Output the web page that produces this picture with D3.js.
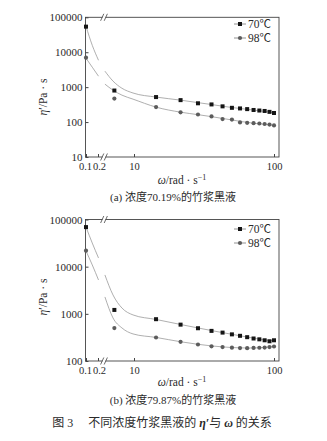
<!DOCTYPE html>
<html><head><meta charset="utf-8">
<script src="https://cdn.jsdelivr.net/npm/d3@7"></script>
<style>
body{margin:0;background:#fff}
svg{display:block}
text{font-family:"Liberation Serif","Times New Roman","Noto Sans CJK SC",serif;fill:#2a2a2a}
</style>
</head><body>
<svg id="c" width="327" height="441"></svg>
<script>
// ---------- data ----------
const omega = [0.1, 7.24, 14.37, 21.51, 28.64, 35.78, 42.91, 50.05, 57.19, 64.32, 71.46, 78.59, 85.73, 92.86, 100];
const etaA70 = [54000, 800, 520, 425, 345, 320, 282, 256, 246, 235, 222, 214, 208, 196, 182];
const etaA98 = [7000, 470, 268, 190, 165, 145, 122, 118, 98, 95, 93, 91, 88, 85, 80];
const etaB70 = [69000, 1210, 770, 590, 495, 435, 400, 367, 342, 320, 300, 288, 275, 262, 275];
const etaB98 = [21800, 500, 315, 255, 224, 205, 197, 192, 188, 187, 189, 191, 193, 197, 203];

// fitted curves (two pieces, either side of the axis break)
const fitOmegaLeft = [0.1, 0.1435, 0.206];
const fitOmegaRight = [6.2, 7.08, 8.2, 9.84, 14.37, 21.51, 28.64, 35.78, 42.91, 50.05, 57.19, 64.32, 71.46, 78.59, 85.73, 92.86, 100];
const fitA70Left = [55300, 15800, 5880];
const fitA70Right = [2870, 1490, 930, 680, 520, 425, 360, 318, 285, 261, 245, 232, 220, 211, 202, 193, 184];
const fitA98Left = [6740, 3730, 2060];
const fitA98Right = [1220, 820, 590, 454, 268, 192, 163, 143, 127, 115, 105, 98, 93, 89, 86, 83, 80];
const fitB70Left = [69300, 31700, 15300];
const fitB70Right = [6670, 2510, 1330, 948, 760, 595, 502, 442, 400, 368, 343, 322, 305, 291, 280, 272, 270];
const fitB98Left = [21500, 10900, 5220];
const fitB98Right = [2280, 818, 502, 375, 316, 256, 226, 209, 199, 193, 190, 189, 189, 191, 194, 198, 203];

const xTicksLeft = [0.1, 0.2];
const xTicksRight = [10, 100];
const yTicksA = [10, 100, 1000, 10000, 100000];
const yTicksB = [100, 1000, 10000, 100000];
const seriesNames = ["70℃", "98℃"];
const captionA = "(a) 浓度70.19%的竹浆黑液";
const captionB = "(b) 浓度79.87%的竹浆黑液";

// ---------- drawing ----------
const svg = d3.select("#c");
const L = 85.5, R = 279, BRK = 104;
const xLeft = d3.scaleLog().domain([0.1, 0.2]).range([86, 98]);
const xRight = d3.scaleLog().domain([10, 100]).range([134, 274]);
const X = w => (w < 1 ? xLeft(w) : xRight(w));

function panel(o) {
  const g = svg.append("g");
  const y = d3.scaleLog().domain(o.yDomain).range([o.bottom, o.top]);

  // curves
  const line = d3.line().x(d => X(d[0])).y(d => y(d[1])).curve(d3.curveMonotoneX);
  [[o.f70L, o.f70R], [o.f98L, o.f98R]].forEach(([fl, fr]) => {
    g.append("path").attr("d", line(d3.zip(fitOmegaLeft, fl)))
      .attr("fill", "none").attr("stroke", "#9a9a9a").attr("stroke-width", 0.8);
    g.append("path").attr("d", line(d3.zip(fitOmegaRight, fr)))
      .attr("fill", "none").attr("stroke", "#9a9a9a").attr("stroke-width", 0.8);
  });

  // frame
  g.append("rect").attr("x", L).attr("y", o.top).attr("width", R - L).attr("height", o.bottom - o.top)
    .attr("fill", "none").attr("stroke", "#444").attr("stroke-width", 0.9);

  // y axis
  const ya = g.append("g").attr("transform", `translate(${L},0)`)
    .call(d3.axisLeft(y).tickValues(o.yTicks).tickFormat(d3.format("d")).tickSizeInner(-3).tickSizeOuter(0).tickPadding(3));
  ya.select(".domain").remove();
  ya.selectAll("line").attr("stroke", "#444");
  ya.selectAll("text").attr("font-size", 11).attr("font-family", "Liberation Serif").attr("fill", "#2a2a2a");

  // x axes (two pieces)
  [[xLeft, xTicksLeft], [xRight, xTicksRight]].forEach(([sc, tv], k) => {
    const xa = g.append("g").attr("transform", `translate(0,${o.bottom})`)
      .call(d3.axisBottom(sc).tickValues(tv).tickFormat(d => String(d)).tickSizeInner(-3).tickSizeOuter(0).tickPadding(5.5));
    xa.select(".domain").remove();
    xa.selectAll("line").attr("stroke", "#444");
    xa.selectAll("text").attr("font-size", 10.5).attr("font-family", "Liberation Serif").attr("fill", "#2a2a2a");
    if (k === 0) xa.selectAll("text").attr("dx", (d, i) => (i === 0 ? -1 : 1));
  });

  // axis break marks
  [o.top, o.bottom].forEach(yy => {
    g.append("line").attr("x1", BRK - 1.5).attr("x2", BRK + 1.5).attr("y1", yy).attr("y2", yy)
      .attr("stroke", "#fff").attr("stroke-width", 2);
    [-1.8, 1.8].forEach(dx => {
      g.append("line").attr("x1", BRK + dx - 1.6).attr("y1", yy + 3.5)
        .attr("x2", BRK + dx + 1.6).attr("y2", yy - 3.5)
        .attr("stroke", "#444").attr("stroke-width", 0.8);
    });
  });

  // points
  g.selectAll(".s70").data(d3.zip(omega, o.e70)).join("rect")
    .attr("x", d => X(d[0]) - 2).attr("y", d => y(d[1]) - 2).attr("width", 4).attr("height", 4)
    .attr("fill", "#151515");
  g.selectAll(".s98").data(d3.zip(omega, o.e98)).join("circle")
    .attr("cx", d => X(d[0])).attr("cy", d => y(d[1])).attr("r", 2.1)
    .attr("fill", "#5c5c5c");

  // legend
  seriesNames.forEach((nm, i) => {
    const ly = o.legY[i];
    g.append("line").attr("x1", 234).attr("x2", 246).attr("y1", ly).attr("y2", ly)
      .attr("stroke", "#777").attr("stroke-width", 0.8);
    if (i === 0) g.append("rect").attr("x", 238).attr("y", ly - 2).attr("width", 4).attr("height", 4).attr("fill", "#151515");
    else g.append("circle").attr("cx", 240).attr("cy", ly).attr("r", 2.1).attr("fill", "#5c5c5c");
    g.append("text").attr("x", 248).attr("y", ly + 4).attr("font-size", 11.5).text(nm);
  });

  // y label
  const yl = g.append("text").attr("transform", `translate(47,${o.yLabC}) rotate(-90)`)
    .attr("text-anchor", "middle").attr("font-size", 11.5);
  yl.append("tspan").attr("font-style", "italic").text("η");
  yl.append("tspan").text("′/Pa · s");

  // x label
  const xl = g.append("text").attr("x", 182).attr("y", o.xLabY).attr("text-anchor", "middle").attr("font-size", 11.5);
  xl.append("tspan").attr("font-style", "italic").text("ω");
  xl.append("tspan").text("/rad · s");
  xl.append("tspan").attr("font-size", 8).attr("dy", -4).text("−1");

  // caption
  g.append("text").attr("x", 173).attr("y", o.capY).attr("text-anchor", "middle").attr("font-size", 11)
    .style("font-family", "'Liberation Serif','Noto Sans CJK SC',serif").text(o.caption);
}

panel({
  top: 17.3, bottom: 157, yDomain: [10, 100000], yTicks: yTicksA,
  e70: etaA70, e98: etaA98,
  f70L: fitA70Left, f70R: fitA70Right, f98L: fitA98Left, f98R: fitA98Right,
  legY: [24, 38], yLabC: 97, xLabY: 184, capY: 201, caption: captionA
});
panel({
  top: 219.5, bottom: 361, yDomain: [100, 100000], yTicks: yTicksB,
  e70: etaB70, e98: etaB98,
  f70L: fitB70Left, f70R: fitB70Right, f98L: fitB98Left, f98R: fitB98Right,
  legY: [229, 243], yLabC: 297, xLabY: 386, capY: 404, caption: captionB
});

// figure caption
const fc = svg.append("text").attr("x", 162).attr("y", 427).attr("text-anchor", "middle").attr("font-size", 12)
  .style("font-family", "'Liberation Serif','Noto Sans CJK SC',serif");
fc.append("tspan").text("图 3　 不同浓度竹浆黑液的 ");
fc.append("tspan").attr("font-style", "italic").attr("font-weight", "bold").text("η′");
fc.append("tspan").text("与 ");
fc.append("tspan").attr("font-style", "italic").attr("font-weight", "bold").text("ω");
fc.append("tspan").text(" 的关系");
</script>
</body></html>
